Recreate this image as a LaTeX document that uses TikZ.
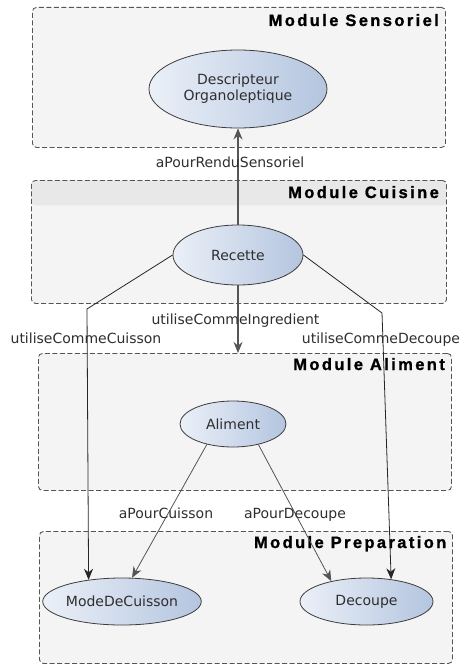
\documentclass[tikz,border=0pt]{standalone}
\usepackage{fontspec}
\setmainfont{DejaVu Sans}
\newfontfamily\titlefont[LetterSpace=14.5,FakeBold=1.2]{Liberation Sans Bold}
\usetikzlibrary{shapes.geometric,arrows.meta}
\definecolor{boxfill}{HTML}{F4F4F4}
\definecolor{boxline}{HTML}{555555}
\definecolor{headfill}{HTML}{E8E8E8}
\definecolor{ellL}{HTML}{EBF0F8}
\definecolor{ellR}{HTML}{B4C5DF}
\definecolor{ellline}{HTML}{3C3C3C}
\definecolor{txt}{HTML}{2E2E2E}
\definecolor{edgegray}{HTML}{555555}
\begin{document}
\begin{tikzpicture}[x=1bp,y=-1bp,
  module/.style={draw=boxline, fill=boxfill, dash pattern=on 5bp off 2.5bp,
    line width=0.9bp, rounded corners=4bp, inner sep=0pt, anchor=north west},
  title/.style={inner sep=0pt, anchor=base east, text=black,
    font=\titlefont\fontsize{16.5bp}{18bp}\selectfont},
  concept/.style={ellipse, draw=ellline, line width=0.8bp, inner sep=0pt,
    left color=ellL, right color=ellR, text=txt,
    font=\fontsize{14bp}{16bp}\selectfont},
  lbl/.style={inner sep=0pt, anchor=base, text=txt,
    font=\fontsize{14bp}{16bp}\selectfont},
  tip/.style={-{Stealth[length=11bp,width=9bp,inset=3.5bp]}},
  mainedge/.style={tip, draw=edgegray, line width=1.3bp},
  sideedge/.style={tip, draw=black!85, line width=0.8bp},
]
\useasboundingbox (0,0) rectangle (461,664);

% module frames
\node[module, minimum width=413bp, minimum height=140bp] (modSens) at (32,7) {};
\node[module, minimum width=415bp, minimum height=123bp,
  path picture={\fill[headfill] (path picture bounding box.north west)
    rectangle ([yshift=-25bp]path picture bounding box.north east);}] (modCuis) at (31,180) {};
\node[module, minimum width=413bp, minimum height=137bp] (modAli) at (38,353) {};
\node[module, minimum width=413bp, minimum height=132bp] (modPrep) at (39,531) {};

\node[title] (tSens) at (439,26) {Module Sensoriel};
\node[title] (tCuis) at (439,198) {Module Cuisine};
\node[title] (tAli) at (445,370) {Module Aliment};
\node[title] (tPrep) at (446.5,548) {Module Preparation};

% concepts
\node[concept, minimum width=178bp, minimum height=78bp, align=center] (desc) at (238,89) {Descripteur\\Organoleptique};
\node[concept, minimum width=130bp, minimum height=60bp] (recette) at (238,255) {Recette};
\node[concept, minimum width=106bp, minimum height=46bp] (aliment) at (233,424) {Aliment};
\node[concept, minimum width=130bp, minimum height=47bp] (mode) at (122,601.5) {ModeDeCuisson};
\node[concept, minimum width=133bp, minimum height=47bp] (decoupe) at (366.5,601.5) {Decoupe};

% bends of the side connectors
\coordinate (bendL) at (87,309);
\coordinate (bendR) at (382,313);

% connectors
\draw[mainedge] (recette.north) -- (desc.south);
\draw[mainedge] (recette.south) -- (recette.south |- modAli.north);
\draw[sideedge] (recette.west) -- (bendL) -- (mode.147);
\draw[sideedge] (recette.east) -- (bendR) -- (decoupe.42);
\draw[sideedge, draw=edgegray] (aliment.218) -- (mode.67);
\draw[sideedge, draw=edgegray] (aliment.321) -- (decoupe.150);

% connector labels
\node[lbl] (lSens) at (230,167) {aPourRenduSensoriel};
\node[lbl] (lIng) at (235.5,324) {utiliseCommeIngredient};
\node[lbl] (lCuis) at (86,343) {utiliseCommeCuisson};
\node[lbl] (lDec) at (381,343) {utiliseCommeDecoupe};
\node[lbl] (lApc) at (166,518) {aPourCuisson};
\node[lbl] (lApd) at (295,518) {aPourDecoupe};
\end{tikzpicture}
\end{document}
